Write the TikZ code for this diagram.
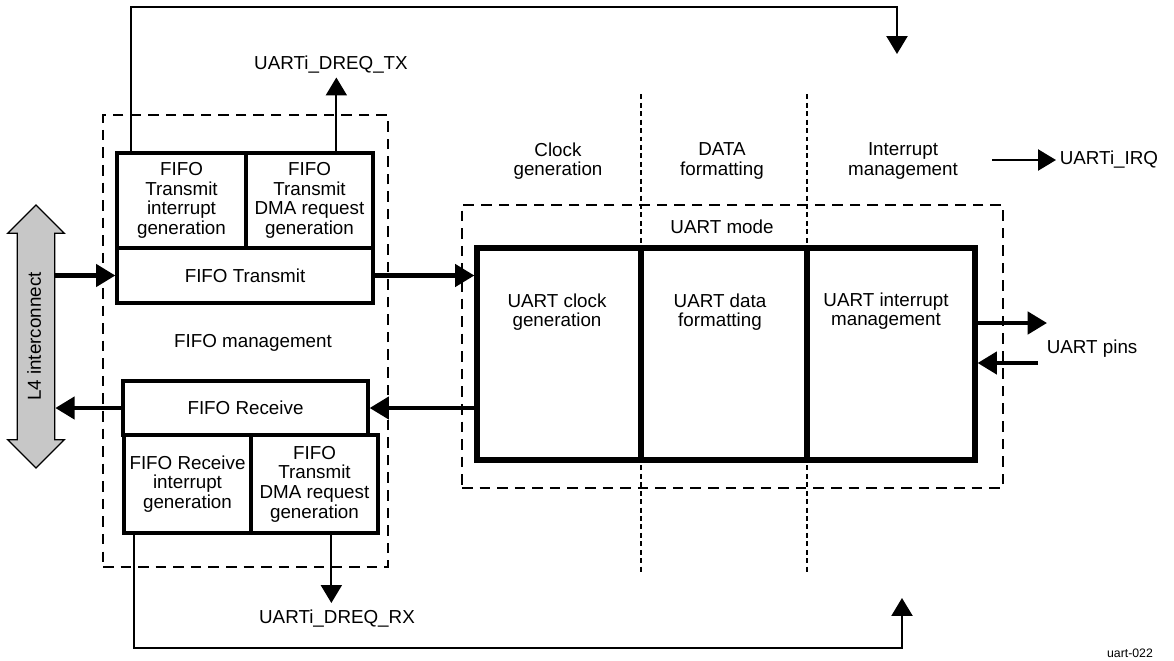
\documentclass[tikz,border=0pt]{standalone}
\usepackage{fontspec}
\setmainfont{Liberation Sans}
\usetikzlibrary{arrows.meta, shapes.arrows, calc}

\begin{document}
\begin{tikzpicture}[x=0.02cm, y=-0.02cm,
    >={Triangle[length=10.2pt, width=12pt]},
    font=\fontsize{10.7}{11.2}\selectfont,
    fifo_box/.style={
        draw, line width=1.9pt, inner sep=1pt, align=center
    },
    uart_box/.style={
        draw, line width=3pt, minimum height=4.24cm
    },
    frame_dash/.style={
        draw, line width=1.3pt, dash pattern=on 6pt off 4pt
    },
    col_sep/.style={line width=0.7pt, dash pattern=on 2.8pt off 2pt},
    signal/.style={->, line width=1pt},
    bus/.style={-{Triangle[length=11pt, width=12.6pt]}, line width=2.4pt},
    tlab/.style={inner sep=2pt, align=center},
]
    \useasboundingbox (0,0) rectangle (1174,660);

    % --- FIFO management ---
    \node[frame_dash, minimum width=5.7cm, minimum height=9.04cm] (fifomgmt) at (245.5,341) {};
    \node[fifo_box, minimum width=2.58cm, minimum height=1.9cm] (txint) at (181.5,200.5)
        {FIFO\\Transmit\\interrupt\\generation};
    \node[fifo_box, minimum width=2.54cm, minimum height=1.9cm] (txdma) at (309.5,200.5)
        {FIFO\\Transmit\\DMA request\\generation};
    \node[fifo_box, minimum width=5.12cm, minimum height=1.1cm] (txfifo) at (245,275.5)
        {FIFO Transmit};
    \node[tlab] (fmgmt) at (253,343) {FIFO management};
    \node[fifo_box, minimum width=4.9cm, minimum height=1.08cm] (rxfifo) at (245.5,408)
        {FIFO Receive};
    \node[fifo_box, minimum width=2.54cm, minimum height=1.96cm] (rxint) at (187.5,484)
        {FIFO Receive\\interrupt\\generation};
    \node[fifo_box, minimum width=2.54cm, minimum height=1.96cm] (rxdma) at (314.5,484)
        {FIFO\\Transmit\\DMA request\\generation};

    % --- L4 bus ---
    \node[double arrow, draw, fill=black!22, line width=0.75pt, rotate=90,
          double arrow head extend=0.19cm, minimum height=5.26cm,
          inner xsep=2pt, inner ysep=5.5pt, text height=7.5pt, text depth=2pt]
          (l4) at (36,336.5) {L4 interconnect};

    % --- UART mode ---
    \node[tlab] (hclk) at (558,161) {Clock\\generation};
    \node[tlab] (hfmt) at (722,161) {DATA\\formatting};
    \node[tlab] (hirq) at (903,161) {Interrupt\\management};
    \node[frame_dash, minimum width=10.82cm, minimum height=5.66cm] (uartmode) at (732.5,346.5) {};
    \node[tlab] (umode) at (722,227) {UART mode};
    \node[uart_box, minimum width=3.28cm] (clk) at (559,354) {};
    \node[uart_box, minimum width=3.32cm] (fmt) at (724,354) {};
    \node[uart_box, minimum width=3.36cm] (irq) at (891,354) {};
    \node[tlab] (clktxt) at (557,312) {UART clock\\generation};
    \node[tlab] (fmttxt) at (720,312) {UART data\\formatting};
    \node[tlab] (irqtxt) at (886,311) {UART interrupt\\management};

    \draw[col_sep] ($(clk.north east)!0.5!(fmt.north west)+(0,-151)$)
                -- ($(clk.south east)!0.5!(fmt.south west)+(0,111)$);
    \draw[col_sep] ($(fmt.north east)!0.5!(irq.north west)+(0,-151)$)
                -- ($(fmt.south east)!0.5!(irq.south west)+(0,111)$);

    % --- data paths ---
    \draw[bus] (l4.south |- txfifo.west) -- (txfifo.west);
    \draw[bus] (rxfifo.west) -- (l4.south |- rxfifo.west);
    \draw[bus] (txfifo.east) -- (txfifo.east -| clk.west);
    \draw[bus] (clk.west |- rxfifo.east) -- (rxfifo.east);

    \coordinate (pinsout) at (1047,323);
    \draw[bus] (irq.east |- pinsout) -- (pinsout);
    \node[tlab, anchor=west] (pinslab) at (1043,349) {UART pins};
    \coordinate (pinsin) at (1038,363);
    \draw[bus] (pinsin) -- (pinsin -| irq.east);

    % --- DMA requests and interrupts ---
    \node[tlab] (dreqtx) at (331,65) {UARTi\_DREQ\_TX};
    \coordinate (txreq) at ($(txdma.north west)+(92,0)$);
    \draw[signal] (txreq) -- (txreq |- dreqtx.south);

    \node[tlab] (dreqrx) at (337,619) {UARTi\_DREQ\_RX};
    \coordinate (rxreq) at ($(rxdma.south west)+(82,0)$);
    \draw[signal] (rxreq) -- ([yshift=2pt]rxreq |- dreqrx.north);

    \coordinate (irqtop) at (897,54);
    \draw[signal] ($(txint.north west)+(16,0)$) |- ($(irqtop)+(0,-47)$) -- (irqtop);
    \coordinate (irqbot) at (902,598);
    \draw[signal] ($(rxint.south west)+(12,0)$) |- ($(irqbot)+(0,50)$) -- (irqbot);

    \node[tlab, anchor=west] (irqlab) at (1056,160) {UARTi\_IRQ};
    \draw[signal] ($(irqlab.west)+(-64,0)$) -- (irqlab.west);

    \node[tlab, font=\fontsize{7}{8}\selectfont] (figid) at (1130,653) {uart-022};

\end{tikzpicture}
\end{document}
